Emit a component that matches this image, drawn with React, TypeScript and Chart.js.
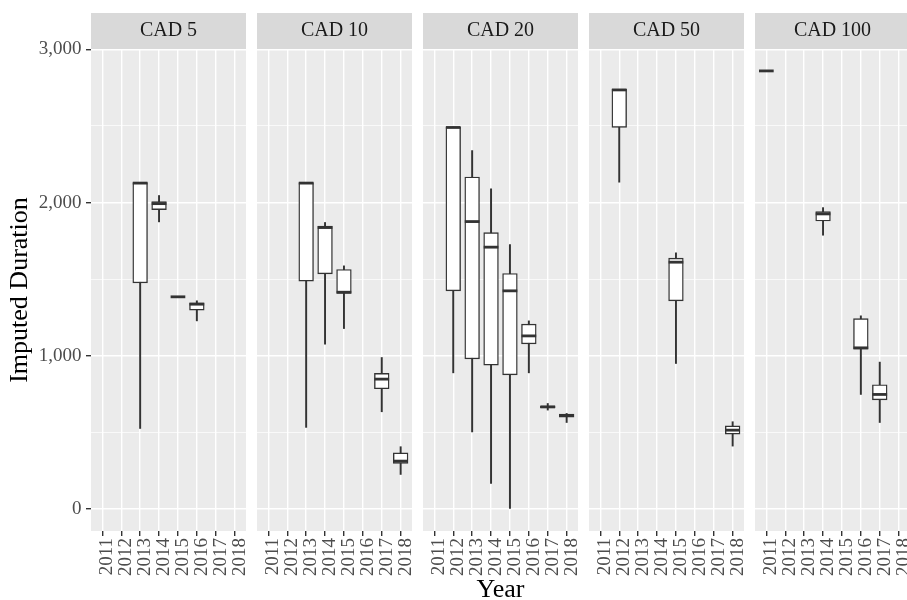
import React, { useEffect, useRef } from 'react';
import { Chart, registerables } from 'chart.js';

Chart.register(...registerables);

const YEARS = ['2011', '2012', '2013', '2014', '2015', '2016', '2017', '2018'];
const PANELS = ['CAD 5', 'CAD 10', 'CAD 20', 'CAD 50', 'CAD 100'];
const Y_TICKS = [0, 500, 1000, 1500, 2000, 2500, 3000];

// one row per panel, one entry per year (null = no observations)
const WHISKER_LOW = [
  [null, null, 526, 1874, 1385, 1228, null, null],
  [null, null, 533, 1076, 1178, null, 635, 226],
  [null, 889, 504, 167, 0, 889, 646, 565],
  [null, 2133, null, null, 950, null, null, 411],
  [2859, null, null, 1787, null, 748, 565, null],
];
const LOWER_HINGE = [
  [null, null, 1476, 1954, 1385, 1298, null, null],
  [null, null, 1487, 1535, 1407, null, 785, 298],
  [null, 1424, 980, 939, 876, 1078, 660, 600],
  [null, 2491, null, null, 1359, null, null, 489],
  [2859, null, null, 1880, null, 1043, 713, null],
];
const MEDIAN = [
  [null, null, 2127, 1993, 1385, 1337, null, null],
  [null, null, 2127, 1837, 1415, null, 848, 313],
  [null, 2490, 1876, 1709, 1424, 1130, 667, 611],
  [null, 2735, null, null, 1611, null, null, 515],
  [2859, null, null, 1926, null, 1052, 748, null],
];
const UPPER_HINGE = [
  [null, null, 2130, 2006, 1385, 1346, null, null],
  [null, null, 2130, 1846, 1563, null, 885, 367],
  [null, 2493, 2167, 1804, 1537, 1207, 672, 620],
  [null, 2739, null, null, 1637, null, null, 543],
  [2859, null, null, 1941, null, 1243, 811, null],
];
const WHISKER_HIGH = [
  [null, null, 2130, 2046, 1385, 1359, null, null],
  [null, null, 2130, 1870, 1587, null, 989, 407],
  [null, 2493, 2339, 2089, 1726, 1228, 689, 624],
  [null, 2739, null, null, 1672, null, null, 570],
  [2859, null, null, 1967, null, 1261, 959, null],
];

const FONT = "'Liberation Serif', 'Times New Roman', serif";
const PANEL_LEFT = [91, 257, 423, 589, 755];
const PANEL_W = 155;
const Y_AXIS_W = 91;
const MARGIN = 5;
const BOX_W = 14.7;

const panelBg = {
  id: 'panelBg',
  beforeDraw(chart: any) {
    const { ctx, chartArea } = chart;
    const tb = chart.titleBlock;
    ctx.save();
    ctx.fillStyle = '#D9D9D9';
    ctx.fillRect(chartArea.left, tb.top, chartArea.right - chartArea.left, chartArea.top - tb.top);
    ctx.fillStyle = '#EBEBEB';
    ctx.fillRect(chartArea.left, chartArea.top, chartArea.right - chartArea.left, chartArea.bottom - chartArea.top);
    ctx.restore();
  },
};

function Panel({ p }: { p: number }) {
  const ref = useRef<HTMLCanvasElement>(null);
  const first = p === 0;
  const mid = p === 2;
  const canvasLeft = first ? 0 : PANEL_LEFT[p] - MARGIN;
  const canvasW = first ? Y_AXIS_W + PANEL_W + MARGIN : PANEL_W + 2 * MARGIN;

  useEffect(() => {
    const boxes: any[] = [];
    const whiskers: any[] = [];
    const medians: any[] = [];
    YEARS.forEach((_, i) => {
      if (MEDIAN[p][i] == null) return;
      const x = i + 1;
      boxes.push({ x, y: [LOWER_HINGE[p][i], UPPER_HINGE[p][i]] });
      whiskers.push({ x, y: [WHISKER_LOW[p][i], WHISKER_HIGH[p][i]] });
      medians.push({ x, y: MEDIAN[p][i] });
    });

    const chart = new Chart(ref.current as HTMLCanvasElement, {
      type: 'bar',
      data: {
        datasets: [
          {
            type: 'line',
            data: medians,
            showLine: false,
            pointStyle: 'line',
            pointRadius: BOX_W / 2,
            pointHoverRadius: BOX_W / 2,
            pointBorderWidth: 2.8,
            pointBorderColor: '#333333',
            order: 0,
          } as any,
          {
            type: 'bar',
            data: boxes,
            backgroundColor: '#FFFFFF',
            borderColor: '#333333',
            borderWidth: 1.4,
            borderSkipped: false,
            barThickness: BOX_W,
            grouped: false,
            order: 1,
          } as any,
          {
            type: 'bar',
            data: whiskers,
            backgroundColor: '#333333',
            borderWidth: 0,
            barThickness: 1.3,
            grouped: false,
            order: 2,
          } as any,
        ],
      },
      options: {
        responsive: false,
        devicePixelRatio: 1,
        animation: false,
        events: [],
        layout: {
          autoPadding: false,
          padding: { top: 13, bottom: 0, left: first ? 0 : MARGIN, right: MARGIN },
        },
        plugins: {
          legend: { display: false },
          tooltip: { enabled: false },
          title: {
            display: true,
            text: PANELS[p],
            fullSize: false,
            color: '#1A1A1A',
            font: { family: FONT, size: 20, weight: 'normal', lineHeight: 1.2 },
            padding: { top: 6, bottom: 6 },
          },
        },
        scales: {
          x: {
            type: 'linear',
            min: 0.4,
            max: 8.6,
            offset: false,
            afterBuildTicks: (s: any) => {
              s.ticks = YEARS.map((_, i) => ({ value: i + 1 }));
            },
            afterFit: (s: any) => {
              s.height = 69;
              s.paddingLeft = 0;
              s.paddingRight = 0;
            },
            ticks: {
              autoSkip: false,
              minRotation: 90,
              maxRotation: 90,
              padding: 2,
              labelOffset: 5,
              color: '#4D4D4D',
              font: { family: FONT, size: 19 },
              callback: (_v: any, i: number) => YEARS[i],
            },
            grid: {
              offset: false,
              color: '#FFFFFF',
              lineWidth: 1.4,
              drawTicks: true,
              tickLength: 5,
              tickWidth: 1.4,
              tickColor: '#333333',
            },
            border: { display: false },
            title: {
              display: mid,
              text: 'Year',
              color: '#000000',
              font: { family: FONT, size: 26, lineHeight: 0.75 },
              padding: { top: 0, bottom: 0 },
            },
          },
          y: {
            type: 'linear',
            min: -143,
            max: 3002,
            afterBuildTicks: (s: any) => {
              s.ticks = Y_TICKS.map((v) => ({ value: v }));
            },
            afterFit: (s: any) => {
              s.width = first ? Y_AXIS_W : 0;
              s.paddingTop = 0;
              s.paddingBottom = 0;
            },
            ticks: {
              display: first,
              padding: 4.5,
              color: '#4D4D4D',
              font: { family: FONT, size: 19 },
              callback: (v: any) => (Number(v) % 1000 === 0 ? Number(v).toLocaleString('en-US') : ''),
            },
            grid: {
              color: '#FFFFFF',
              lineWidth: (c: any) => (c.tick && c.tick.value % 1000 === 0 ? 1.4 : 0.7),
              drawTicks: first,
              tickLength: 5,
              tickWidth: 1.4,
              tickColor: (c: any) => (c.tick && c.tick.value % 1000 === 0 ? '#333333' : 'rgba(0,0,0,0)'),
            },
            border: { display: false },
            title: {
              display: first,
              text: 'Imputed Duration',
              color: '#000000',
              font: { family: FONT, size: 26, lineHeight: 0.9 },
              padding: { top: 8, bottom: 0 },
            },
          },
        },
      },
      plugins: [panelBg],
    } as any);
    return () => chart.destroy();
  }, [p]);

  return (
    <canvas
      ref={ref}
      width={canvasW}
      height={600}
      style={{ position: 'absolute', left: canvasLeft, top: 0, width: canvasW, height: 600 }}
    />
  );
}

export default function App() {
  return (
    <div
      style={{
        position: 'fixed',
        left: 0,
        top: 0,
        width: 907,
        height: 600,
        overflow: 'hidden',
        background: '#FFFFFF',
      }}
    >
      {PANELS.map((_, p) => (
        <Panel key={p} p={p} />
      ))}
    </div>
  );
}
